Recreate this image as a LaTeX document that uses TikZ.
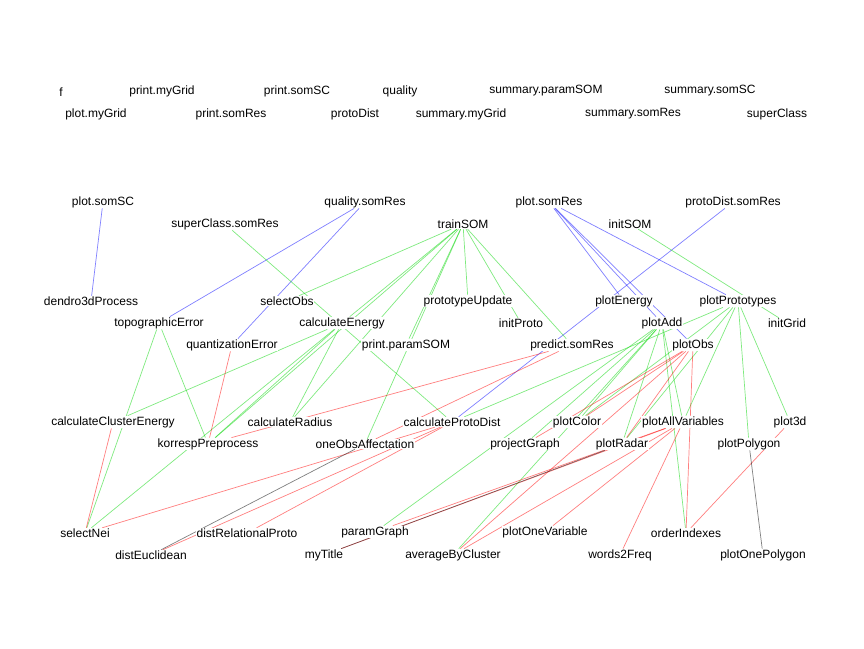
\documentclass[tikz,border=0pt]{standalone}
\usepackage{fontspec}
\setmainfont{Liberation Sans}
\usepackage{xcolor}
\usepackage{tikz}
\usetikzlibrary{backgrounds}
\definecolor{callblue}{RGB}{0,0,255}
\definecolor{callgreen}{RGB}{0,215,0}
\definecolor{callred}{RGB}{255,0,0}
\definecolor{callblack}{RGB}{0,0,0}

\begin{document}
\begin{tikzpicture}[x=1pt, y=-1pt,
  fn/.style={fill=white, inner sep=0.6pt, font=\fontsize{12}{14}\selectfont},
  bluecall/.style={draw=callblue, draw opacity=0.5, line width=0.7pt},
  greencall/.style={draw=callgreen, draw opacity=0.5, line width=0.7pt},
  redcall/.style={draw=callred, draw opacity=0.5, line width=0.7pt},
  blackcall/.style={draw=callblack, draw opacity=0.5, line width=0.7pt}]
\useasboundingbox (0,0) rectangle (864,648);
% functions nobody calls
\node[fn] (f) at (61,92) {f};
\node[fn] (printMyGrid) at (162,91) {print.myGrid};
\node[fn] (printSomSC) at (297,91) {print.somSC};
\node[fn] (quality) at (400,91) {quality};
\node[fn] (summaryParamSOM) at (546,91) {summary.paramSOM};
\node[fn] (summarySomSC) at (710,91) {summary.somSC};
\node[fn] (plotMyGrid) at (96,114) {plot.myGrid};
\node[fn] (printSomRes) at (231,114) {print.somRes};
\node[fn] (protoDist) at (355,114) {protoDist};
\node[fn] (summaryMyGrid) at (461,114) {summary.myGrid};
\node[fn] (summarySomRes) at (633,114) {summary.somRes};
\node[fn] (superClass) at (777,114) {superClass};
% level 1
\node[fn] (plotSomSC) at (103,202) {plot.somSC};
\node[fn] (qualitySomRes) at (365,202) {quality.somRes};
\node[fn] (plotSomRes) at (549,202) {plot.somRes};
\node[fn] (protoDistSomRes) at (733,202) {protoDist.somRes};
\node[fn] (superClassSomRes) at (225,224) {superClass.somRes};
\node[fn] (trainSOM) at (463,224) {trainSOM};
\node[fn] (initSOM) at (630,224) {initSOM};
% level 2
\node[fn] (dendro3dProcess) at (91,301) {dendro3dProcess};
\node[fn] (selectObs) at (287,301) {selectObs};
\node[fn] (prototypeUpdate) at (468,301) {prototypeUpdate};
\node[fn] (plotEnergy) at (624,301) {plotEnergy};
\node[fn] (plotPrototypes) at (738,301) {plotPrototypes};
\node[fn] (topographicError) at (159,323) {topographicError};
\node[fn] (calculateEnergy) at (342,323) {calculateEnergy};
\node[fn] (initProto) at (521,323) {initProto};
\node[fn] (plotAdd) at (662,323) {plotAdd};
\node[fn] (initGrid) at (787,323) {initGrid};
\node[fn] (quantizationError) at (232,345) {quantizationError};
\node[fn] (printParamSOM) at (406,345) {print.paramSOM};
\node[fn] (predictSomRes) at (572,345) {predict.somRes};
\node[fn] (plotObs) at (693,345) {plotObs};
% level 3
\node[fn] (calculateClusterEnergy) at (113,422) {calculateClusterEnergy};
\node[fn] (calculateRadius) at (290,422) {calculateRadius};
\node[fn] (calculateProtoDist) at (452,422) {calculateProtoDist};
\node[fn] (plotColor) at (577,422) {plotColor};
\node[fn] (plotAllVariables) at (683,422) {plotAllVariables};
\node[fn] (plot3d) at (790,422) {plot3d};
\node[fn] (korrespPreprocess) at (208,444) {korrespPreprocess};
\node[fn] (oneObsAffectation) at (365,444) {oneObsAffectation};
\node[fn] (projectGraph) at (525,444) {projectGraph};
\node[fn] (plotRadar) at (622,444) {plotRadar};
\node[fn] (plotPolygon) at (749,444) {plotPolygon};
% level 4
\node[fn] (selectNei) at (85,533) {selectNei};
\node[fn] (distRelationalProto) at (247,533) {distRelationalProto};
\node[fn] (paramGraph) at (375,532) {paramGraph};
\node[fn] (plotOneVariable) at (545,532) {plotOneVariable};
\node[fn] (orderIndexes) at (686,533) {orderIndexes};
\node[fn] (distEuclidean) at (151,555) {distEuclidean};
\node[fn] (myTitle) at (324,555) {myTitle};
\node[fn] (averageByCluster) at (453,555) {averageByCluster};
\node[fn] (words2Freq) at (620,555) {words2Freq};
\node[fn] (plotOnePolygon) at (763,555) {plotOnePolygon};

\begin{scope}[on background layer]
\fill[white] (0,0) rectangle (864,648);
% calls
\draw[bluecall] (plotSomSC) -- (dendro3dProcess);
\foreach \callee in {topographicError,quantizationError}
  \draw[bluecall] (qualitySomRes) -- (\callee);
\foreach \callee in {plotEnergy,plotAdd,plotObs,plotPrototypes}
  \draw[bluecall] (plotSomRes) -- (\callee);
\draw[bluecall] (protoDistSomRes) -- (calculateProtoDist);
\draw[greencall] (superClassSomRes) -- (calculateProtoDist);
\foreach \callee in {selectObs,calculateEnergy,korrespPreprocess,calculateRadius,printParamSOM,oneObsAffectation,prototypeUpdate,initProto,predictSomRes}
  \draw[greencall] (trainSOM) -- (\callee);
\draw[greencall] (initSOM) -- (initGrid);
\foreach \callee in {korrespPreprocess,selectNei}
  \draw[greencall] (topographicError) -- (\callee);
\foreach \callee in {calculateClusterEnergy,korrespPreprocess,calculateRadius,selectNei}
  \draw[greencall] (calculateEnergy) -- (\callee);
\foreach \callee in {calculateProtoDist,plotColor,plotRadar,plotAllVariables,plot3d,plotPolygon}
  \draw[greencall] (plotPrototypes) -- (\callee);
\foreach \callee in {plotColor,projectGraph,plotRadar,plotAllVariables,paramGraph,averageByCluster,orderIndexes}
  \draw[greencall] (plotAdd) -- (\callee);
\draw[redcall] (quantizationError) -- (korrespPreprocess);
\foreach \callee in {korrespPreprocess,oneObsAffectation}
  \draw[redcall] (predictSomRes) -- (\callee);
\foreach \callee in {plotColor,projectGraph,plotRadar,averageByCluster,orderIndexes}
  \draw[redcall] (plotObs) -- (\callee);
\draw[redcall] (calculateClusterEnergy) -- (selectNei);
\foreach \callee in {selectNei,distEuclidean,distRelationalProto}
  \draw[redcall] (calculateProtoDist) -- (\callee);
\foreach \callee in {paramGraph,myTitle,averageByCluster,plotOneVariable,words2Freq}
  \draw[redcall] (plotAllVariables) -- (\callee);
\draw[redcall] (plot3d) -- (orderIndexes);
\draw[blackcall] (oneObsAffectation) -- (distEuclidean);
\draw[blackcall] (plotRadar) -- (myTitle);
\draw[blackcall] (plotPolygon) -- (plotOnePolygon);
\end{scope}
\end{tikzpicture}
\end{document}
